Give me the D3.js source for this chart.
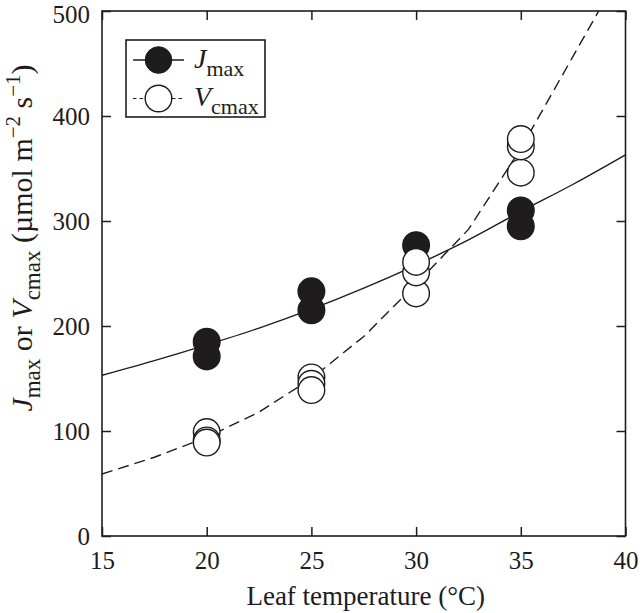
<!DOCTYPE html>
<html>
<head>
<meta charset="utf-8">
<script src="https://cdn.jsdelivr.net/npm/d3@7"></script>
<style>
  body { margin: 0; background: #fff; }
  text { font-family: "Liberation Serif", "Times New Roman", serif; fill: #1e1c1d; }
</style>
</head>
<body>
<svg id="chart" width="640" height="613"></svg>
<script>
// observed points
const jmaxTemps = [20, 20, 25, 25, 30, 35, 35];
const jmaxValues = [185, 171, 233, 215, 277, 310, 295];
const vcmaxTemps = [20, 20, 20, 25, 25, 25, 30, 30, 30, 35, 35, 35];
const vcmaxValues = [99, 91, 89, 151, 145, 139, 231, 251, 261, 346, 371, 378];

// fitted curves
const fitTemps = [15, 17.5, 20, 22.5, 25, 27.5, 30, 32.5, 35, 37.5, 40];
const jmaxFit = [153, 167, 182, 198, 216, 236, 258, 282, 309, 335, 363];
const vcmaxFit = [59, 75, 94, 118, 150, 190, 240, 292, 369, 457, 545];

const xTicks = [15, 20, 25, 30, 35, 40];
const yTicks = [0, 100, 200, 300, 400, 500];

const ink = '#1e1c1d';
const plotLeft = 102, plotRight = 625.5, plotTop = 11, plotBottom = 536;
const radius = 13.3;

const svg = d3.select('#chart');
const x = d3.scaleLinear().domain([15, 40]).range([plotLeft, plotRight]);
const y = d3.scaleLinear().domain([0, 500]).range([plotBottom, plotTop]);

svg.append('defs').append('clipPath').attr('id', 'plotClip')
    .append('rect')
    .attr('x', plotLeft).attr('y', plotTop)
    .attr('width', plotRight - plotLeft).attr('height', plotBottom - plotTop);

// axes, ticks pointing inward on all four sides
function styleAxis(g) {
    g.select('.domain').remove();
    g.selectAll('line').attr('stroke', ink).attr('stroke-width', 1.5);
    g.selectAll('text').attr('font-size', 25).attr('fill', ink)
        .style('font-family', '"Liberation Serif", serif');
}

svg.append('g')
    .attr('transform', 'translate(0,' + plotBottom + ')')
    .call(d3.axisBottom(x).tickValues(xTicks).tickSize(-9).tickPadding(15))
    .call(styleAxis);

svg.append('g')
    .attr('transform', 'translate(0,' + plotTop + ')')
    .call(d3.axisTop(x).tickValues(xTicks).tickSize(-9).tickFormat(''))
    .call(styleAxis);

const yAxis = svg.append('g')
    .attr('transform', 'translate(' + plotLeft + ',0)')
    .call(d3.axisLeft(y).tickValues(yTicks).tickSize(-9).tickPadding(12))
    .call(styleAxis);
// top label sits right at the edge, nudge it so it is not cut
yAxis.selectAll('text').filter(d => d === 500).attr('dy', '0.45em');

svg.append('g')
    .attr('transform', 'translate(' + plotRight + ',0)')
    .call(d3.axisRight(y).tickValues(yTicks).tickSize(-9).tickFormat(''))
    .call(styleAxis);

svg.append('rect')
    .attr('x', plotLeft).attr('y', plotTop)
    .attr('width', plotRight - plotLeft).attr('height', plotBottom - plotTop)
    .attr('fill', 'none').attr('stroke', ink).attr('stroke-width', 1.6);

// fitted lines
const line = d3.line().x(d => x(d[0])).y(d => y(d[1]));
const plot = svg.append('g').attr('clip-path', 'url(#plotClip)');

plot.append('path')
    .datum(d3.zip(fitTemps, jmaxFit))
    .attr('d', line.curve(d3.curveMonotoneX))
    .attr('fill', 'none').attr('stroke', ink).attr('stroke-width', 1.4);

plot.append('path')
    .datum(d3.zip(fitTemps, vcmaxFit))
    .attr('d', line.curve(d3.curveLinear))
    .attr('fill', 'none').attr('stroke', ink).attr('stroke-width', 1.4)
    .attr('stroke-dasharray', '11,6');

// markers: filled first, open on top
plot.selectAll('circle.jmax').data(d3.zip(jmaxTemps, jmaxValues))
    .join('circle')
    .attr('class', 'jmax')
    .attr('cx', d => x(d[0])).attr('cy', d => y(d[1]))
    .attr('r', radius)
    .attr('fill', ink).attr('stroke', ink).attr('stroke-width', 1.4);

plot.selectAll('circle.vcmax').data(d3.zip(vcmaxTemps, vcmaxValues))
    .join('circle')
    .attr('class', 'vcmax')
    .attr('cx', d => x(d[0])).attr('cy', d => y(d[1]))
    .attr('r', radius)
    .attr('fill', '#fff').attr('stroke', ink).attr('stroke-width', 1.4);

// legend
const legend = svg.append('g');
legend.append('rect')
    .attr('x', 126).attr('y', 40).attr('width', 139).attr('height', 77)
    .attr('fill', '#fff').attr('stroke', ink).attr('stroke-width', 1.6);

legend.append('line')
    .attr('x1', 133).attr('x2', 184).attr('y1', 60).attr('y2', 60)
    .attr('stroke', ink).attr('stroke-width', 1.4);
legend.append('circle')
    .attr('cx', 158.5).attr('cy', 60).attr('r', radius)
    .attr('fill', ink).attr('stroke', ink);

legend.append('line')
    .attr('x1', 133).attr('x2', 184).attr('y1', 98.5).attr('y2', 98.5)
    .attr('stroke', ink).attr('stroke-width', 1.2).attr('stroke-dasharray', '3.5,3');
legend.append('circle')
    .attr('cx', 158.5).attr('cy', 98.5).attr('r', radius)
    .attr('fill', '#fff').attr('stroke', ink).attr('stroke-width', 1.4);

const lj = legend.append('text').attr('x', 194).attr('y', 68).attr('font-size', 28);
lj.append('tspan').attr('font-style', 'italic').text('J');
lj.append('tspan').attr('font-size', 22).attr('dy', 8).text('max');

const lv = legend.append('text').attr('x', 194).attr('y', 106).attr('font-size', 28);
lv.append('tspan').attr('font-style', 'italic').text('V');
lv.append('tspan').attr('font-size', 22).attr('dy', 8).text('cmax');

// axis titles
svg.append('text')
    .attr('x', (plotLeft + plotRight) / 2 + 2).attr('y', 605)
    .attr('text-anchor', 'middle').attr('font-size', 27)
    .text('Leaf temperature (°C)');

const yt = svg.append('text')
    .attr('transform', 'translate(32,238) rotate(-90)')
    .attr('text-anchor', 'middle').attr('font-size', 30);
yt.append('tspan').attr('font-style', 'italic').text('J');
yt.append('tspan').attr('font-size', 23).attr('dy', 8).text('max');
yt.append('tspan').attr('dy', -8).text(' or ');
yt.append('tspan').attr('font-style', 'italic').text('V');
yt.append('tspan').attr('font-size', 23).attr('dy', 8).text('cmax');
yt.append('tspan').attr('dy', -8).text(' (µmol m');
yt.append('tspan').attr('font-size', 21).attr('dy', -12).text('−2');
yt.append('tspan').attr('dy', 12).text(' s');
yt.append('tspan').attr('font-size', 21).attr('dy', -12).text('−1');
yt.append('tspan').attr('dy', 12).text(')');
</script>
</body>
</html>
